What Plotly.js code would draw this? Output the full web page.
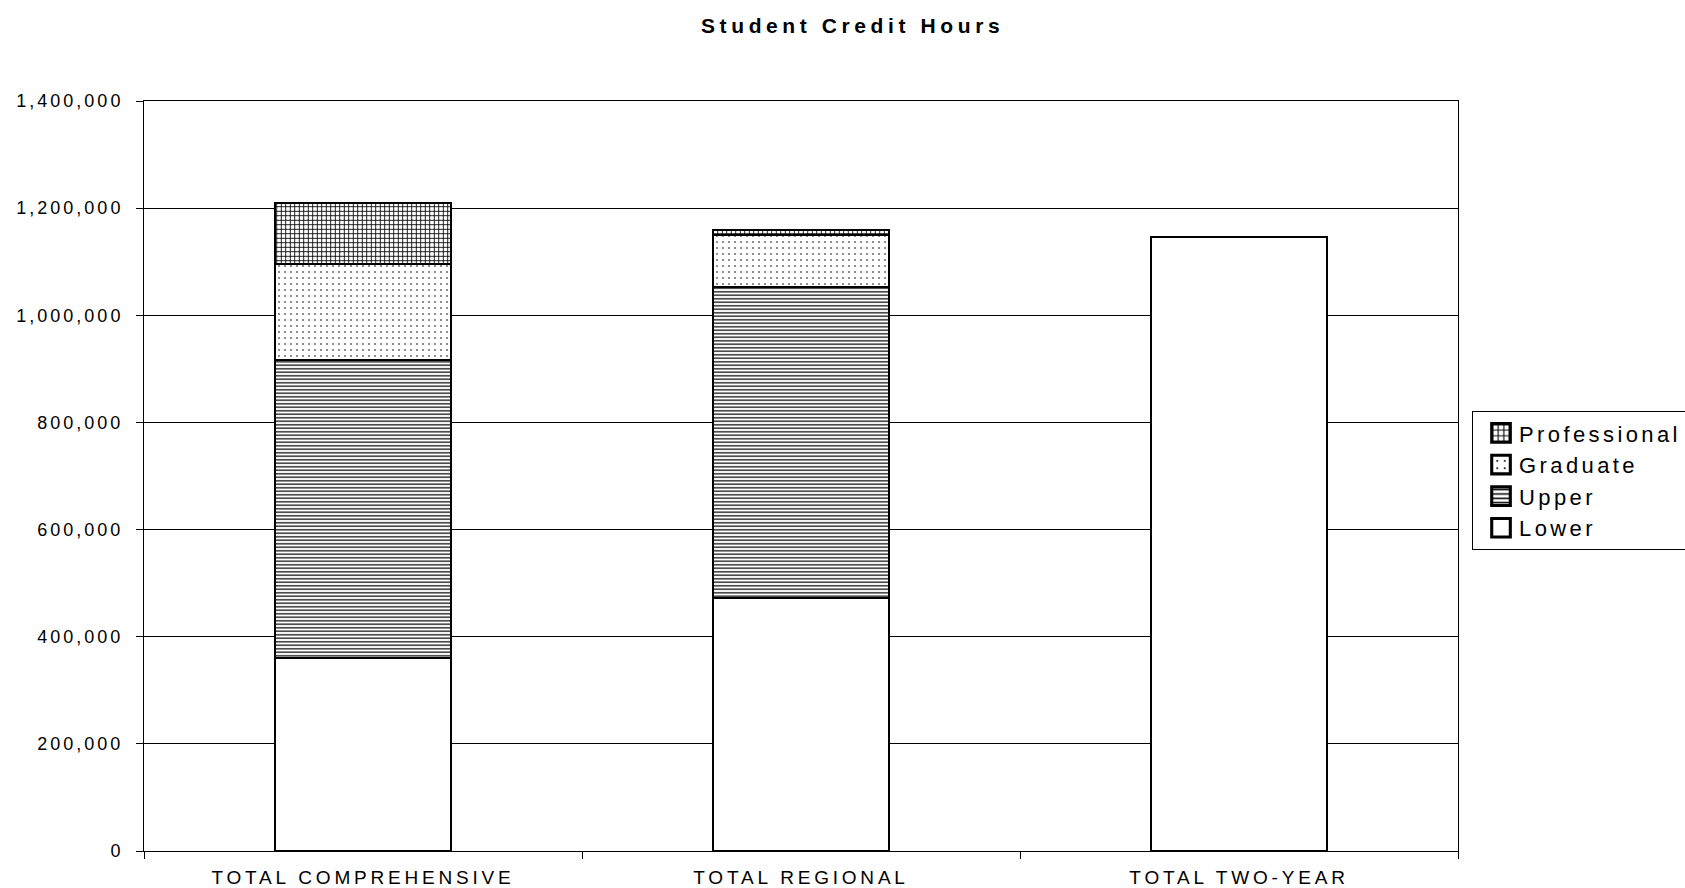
<!DOCTYPE html>
<html>
<head>
<meta charset="utf-8">
<script src="https://cdn.plot.ly/plotly-3.0.1.min.js"></script>
<style>
  body { margin: 0; background: #fff; }
  #chart { width: 1685px; height: 888px; }
  .gtitle { letter-spacing: 4.6px; }
  .xtick text { letter-spacing: 3.8px; }
  .ytick text { letter-spacing: 3px; }
  .legendtext { letter-spacing: 3.4px; }
  .legendpoints path { transform: translate(28px, 0px) scale(1.55); }
</style>
</head>
<body>
<div id="chart"></div>
<script>
// Categories
var categories = ['TOTAL COMPREHENSIVE', 'TOTAL REGIONAL', 'TOTAL TWO-YEAR'];

// Student credit hours by level
var lower = [360000, 473000, 1146000];
var upper = [556000, 580000, null];
var graduate = [179000, 97000, null];
var professional = [115000, 9000, null];

var FONT = 'Liberation Sans, Arial, sans-serif';

function make_trace(name, values, shape, size, solidity) {
    return {
        x: categories,
        y: values,
        type: 'bar',
        name: name,
        marker: {
            color: '#ffffff',
            line: {color: '#000000', width: 2},
            pattern: {shape: shape, size: size, solidity: solidity,
                      fgcolor: '#000000', bgcolor: '#ffffff', fillmode: 'replace'}
        },
        hoverinfo: 'none'
    };
}

var data = [
    make_trace('Lower', lower, '', 8, 0.3),
    make_trace('Upper', upper, '-', 3.5, 0.35),
    make_trace('Graduate', graduate, '.', 6, 0.06),
    make_trace('Professional', professional, '+', 4.5, 0.35)
];

var layout = {
    width: 1685,
    height: 888,
    paper_bgcolor: '#ffffff',
    plot_bgcolor: '#ffffff',
    barmode: 'stack',
    bargap: 0.6,
    margin: {l: 144, r: 227, t: 101, b: 37},
    font: {family: FONT, color: '#000000', size: 18},
    title: {
        text: '<b>Student Credit Hours</b>',
        font: {family: FONT, size: 21, color: '#000000'},
        xref: 'container', x: 0.506, xanchor: 'center',
        yref: 'container', y: 0.971, yanchor: 'middle'
    },
    xaxis: {
        type: 'category',
        showline: true, mirror: true, linecolor: '#000000', linewidth: 1,
        ticks: 'outside', tickson: 'boundaries', ticklen: 7, tickcolor: '#000000',
        ticklabelstandoff: 9,
        showgrid: false,
        tickfont: {family: FONT, size: 19, color: '#000000'}
    },
    yaxis: {
        range: [0, 1400000],
        dtick: 200000,
        tickformat: ',d',
        showline: true, mirror: true, linecolor: '#000000', linewidth: 1,
        ticks: 'outside', ticklen: 7, tickcolor: '#000000',
        ticklabelstandoff: 9,
        showgrid: true, gridcolor: '#000000', gridwidth: 1,
        zeroline: false,
        tickfont: {family: FONT, size: 18, color: '#000000'}
    },
    showlegend: true,
    legend: {
        traceorder: 'reversed',
        xref: 'container', x: 0.8736, xanchor: 'left',
        yref: 'container', y: 0.537, yanchor: 'top',
        bordercolor: '#000000', borderwidth: 1,
        bgcolor: '#ffffff',
        font: {family: FONT, size: 22, color: '#000000'},
        itemwidth: 36,
        tracegroupgap: 0
    }
};

Plotly.newPlot('chart', data, layout, {staticPlot: true});
</script>
</body>
</html>
